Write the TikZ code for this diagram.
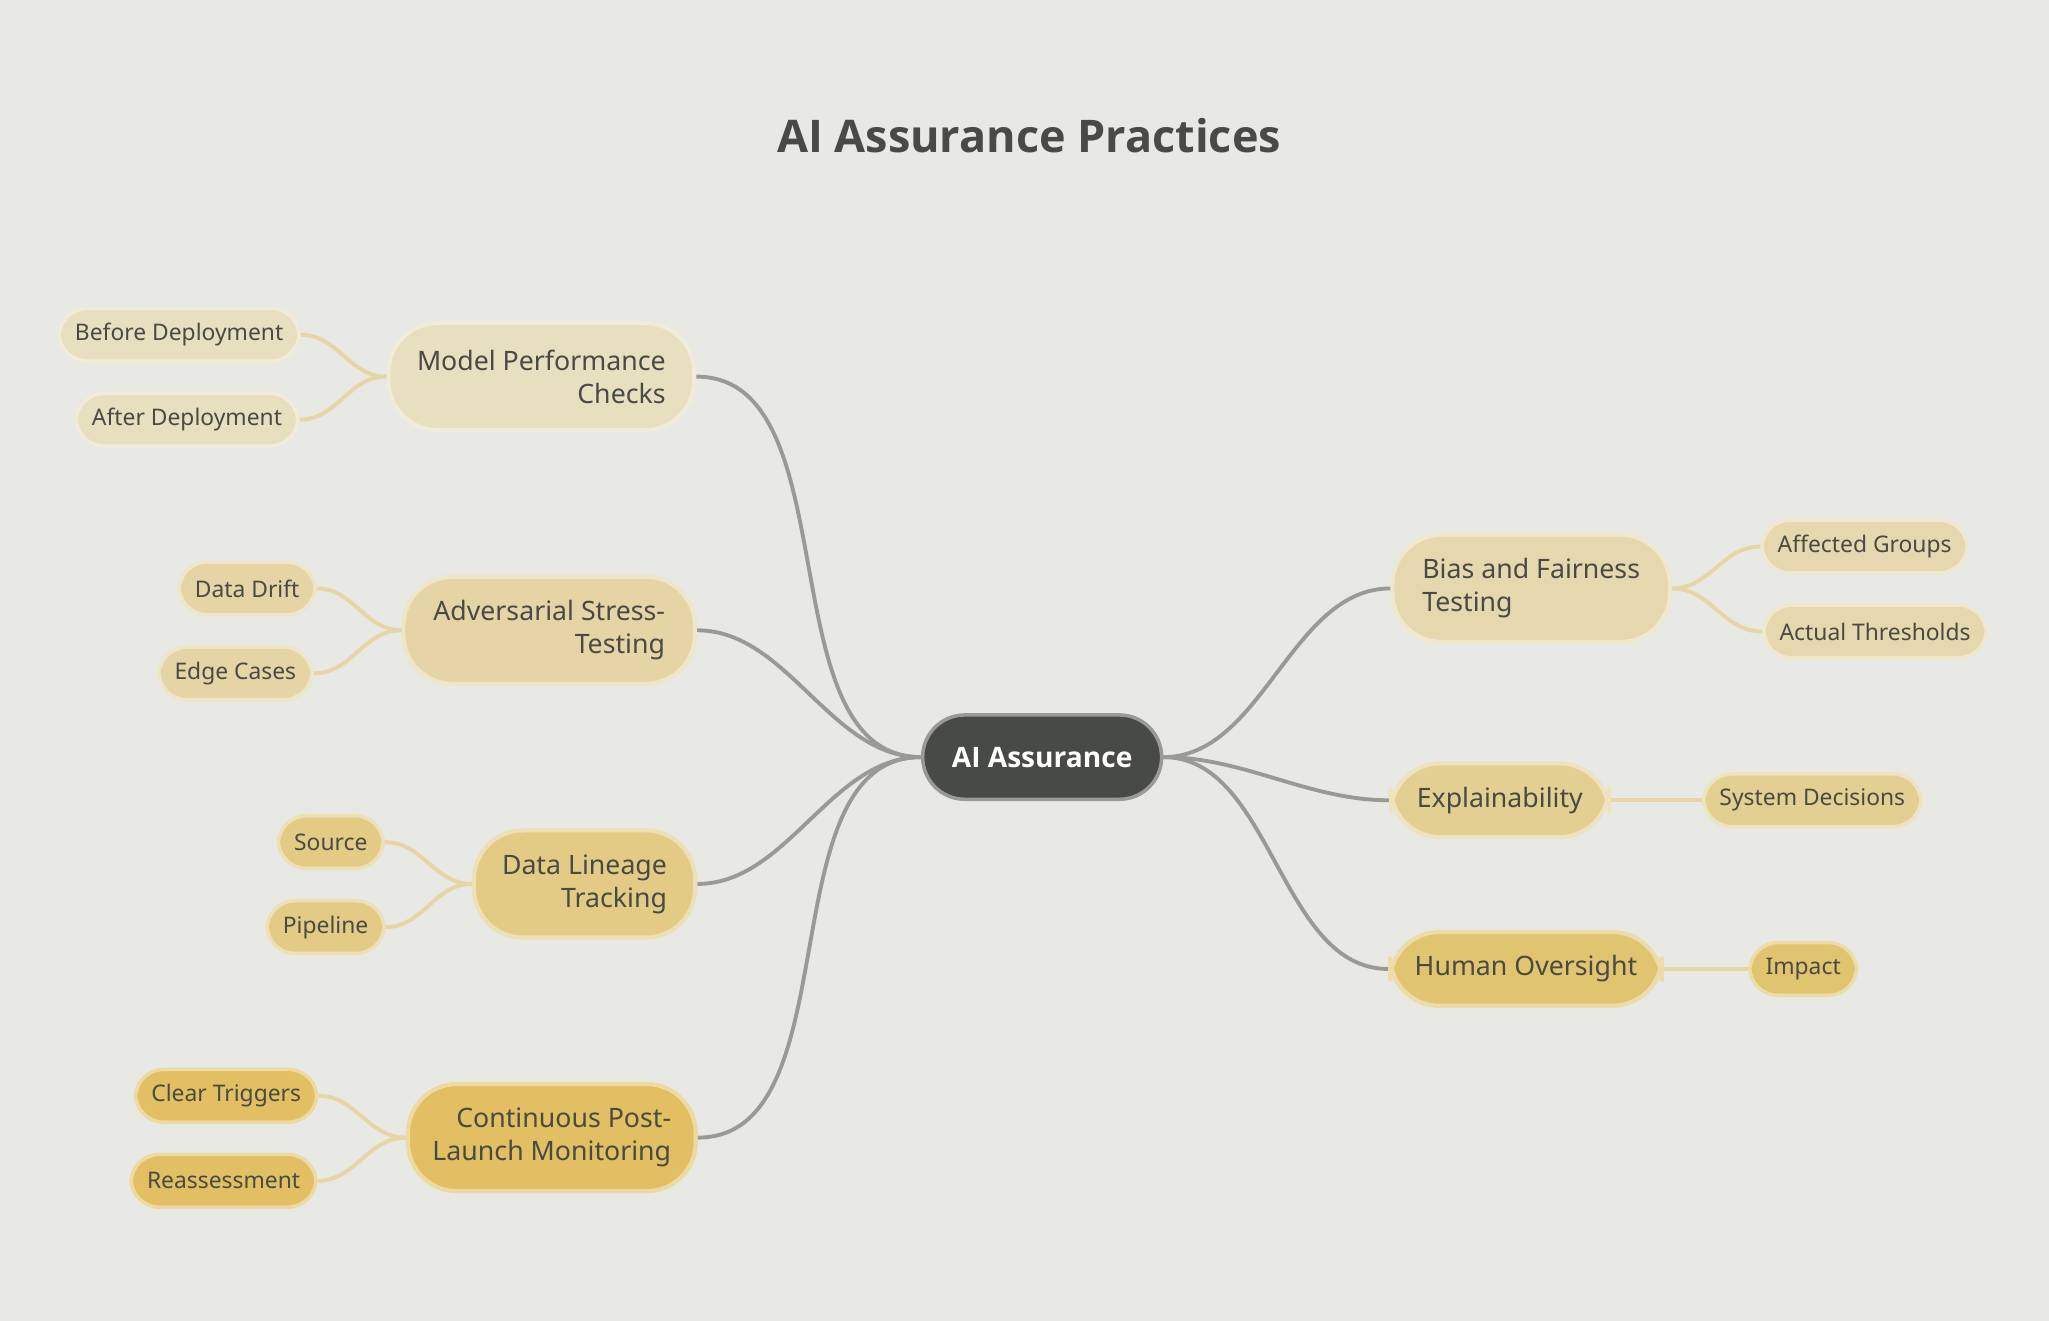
\documentclass[tikz,border=0pt]{standalone}
\usepackage{fontspec}
\setmainfont{Noto Sans}
\newfontfamily\titlefont{Open Sans}
\usetikzlibrary{positioning}
\definecolor{bgc}{HTML}{E8E8E4}
\definecolor{ink}{HTML}{4A4A44}
\definecolor{rootc}{HTML}{474A45}
\definecolor{cA}{HTML}{E8DEC0}
\definecolor{cB}{HTML}{E5D5A6}
\definecolor{cC}{HTML}{E3CB86}
\definecolor{cD}{HTML}{E1BF62}
\definecolor{cE}{HTML}{E6D8AE}
\definecolor{cF}{HTML}{E4CF92}
\definecolor{cG}{HTML}{E1C470}
\definecolor{trunk}{HTML}{999996}
\definecolor{twig}{HTML}{E6D6A6}
\tikzset{
  branch/.style={rounded corners=14pt, draw=#1!60!white, line width=1.2pt, fill=#1,
    text=ink, font=\fontsize{7.6}{9.4}\selectfont\bfseries, inner xsep=7pt,
    minimum height=30.5pt},
  leaf/.style={rounded corners=8pt, draw=#1!60!white, line width=1pt, fill=#1,
    text=ink, font=\fontsize{6.5}{8}\selectfont\bfseries, inner xsep=4.5pt,
    minimum height=15pt},
  trunkline/.style={draw=trunk, line width=1.1pt},
  twigline/.style={draw=twig, line width=1.1pt}
}
\begin{document}
\begin{tikzpicture}[x=0.013076cm, y=-0.013076cm]
  \fill[bgc] (0,0) rectangle (1567,1010);
  \useasboundingbox (0,0) rectangle (1567,1010);
  \node[text=ink, font=\titlefont\fontsize{12.8}{15}\selectfont\bfseries] (title) at (787,104) {AI Assurance Practices};
  % root
  \node[rounded corners=12pt, draw=trunk, line width=1pt, fill=rootc, text=white,
    font=\titlefont\fontsize{8}{10}\selectfont\bfseries, minimum width=68pt, minimum height=24pt] (root) at (797,579) {AI Assurance};
  % left branches
  \node[branch=cA, minimum width=87pt, align=right] (perf) at (414,288) {Model Performance\\Checks};
  \node[branch=cB, minimum width=83pt, align=right] (adv) at (420,482) {Adversarial Stress-\\Testing};
  \node[branch=cC, minimum width=63pt, align=right] (lineage) at (447,676) {Data Lineage\\Tracking};
  \node[branch=cD, minimum width=81pt, align=right] (monitor) at (422,870) {Continuous Post-\\Launch Monitoring};
  % right branches
  \node[branch=cE, minimum width=79pt, align=left] (bias) at (1171,450) {Bias and Fairness\\Testing};
  \node[branch=cF, minimum width=62pt, minimum height=21pt] (explain) at (1147,612) {Explainability};
  \node[branch=cG, minimum width=76pt, minimum height=21pt] (human) at (1167,741) {Human Oversight};
  % leaves
  \node[leaf=cA] (before) at (137,256) {Before Deployment};
  \node[leaf=cA] (after) at (143,321) {After Deployment};
  \node[leaf=cB] (drift) at (189,450) {Data Drift};
  \node[leaf=cB] (edge) at (180,515) {Edge Cases};
  \node[leaf=cC] (source) at (253,644) {Source};
  \node[leaf=cC] (pipe) at (249,709) {Pipeline};
  \node[leaf=cD] (trig) at (173,838) {Clear Triggers};
  \node[leaf=cD] (reass) at (171,903) {Reassessment};
  \node[leaf=cE] (groups) at (1426,418) {Affected Groups};
  \node[leaf=cE] (thresh) at (1434,483) {Actual Thresholds};
  \node[leaf=cF] (sysdec) at (1386,612) {System Decisions};
  \node[leaf=cG] (impact) at (1379,741) {Impact};
  % trunk connectors
  \begin{scope}[on background layer/.style={}]
  \foreach \b in {perf,adv,lineage,monitor}
    \draw[trunkline] (root.west) to[out=180,in=0,looseness=0.9] (\b.east);
  \foreach \b in {bias,explain,human}
    \draw[trunkline] (root.east) to[out=0,in=180,looseness=0.9] (\b.west);
  % twig connectors
  \foreach \b/\l in {perf/before,perf/after,adv/drift,adv/edge,lineage/source,lineage/pipe,monitor/trig,monitor/reass}
    \draw[twigline] (\b.west) to[out=180,in=0] (\l.east);
  \foreach \b/\l in {bias/groups,bias/thresh,explain/sysdec,human/impact}
    \draw[twigline] (\b.east) to[out=0,in=180] (\l.west);
  \end{scope}
\end{tikzpicture}
\end{document}
